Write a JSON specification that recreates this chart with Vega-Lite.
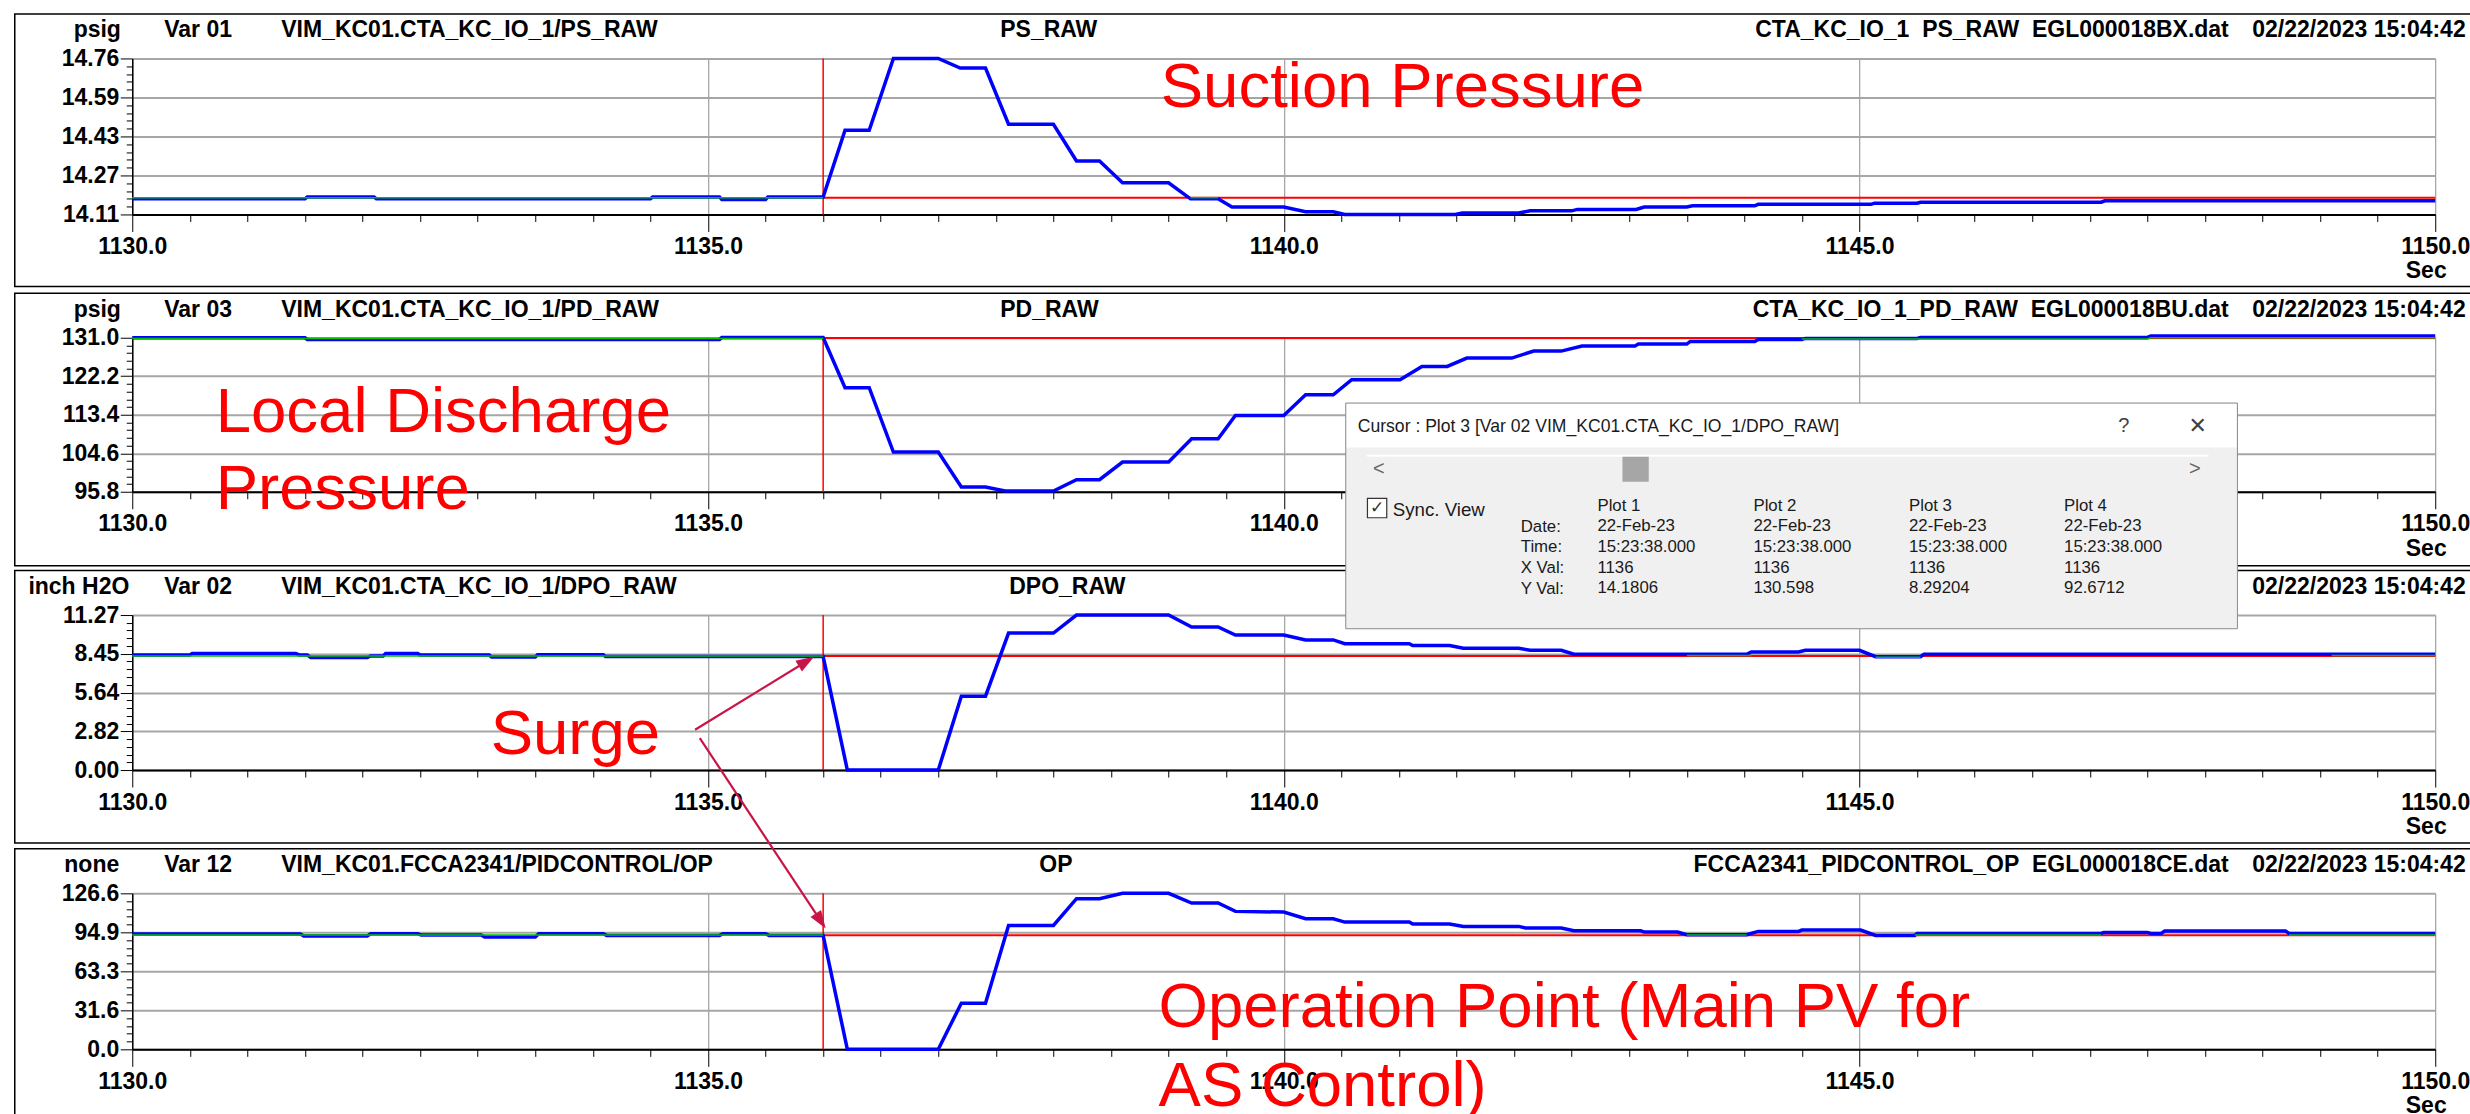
{
"$schema": "https://vega.github.io/schema/vega-lite/v6.json",
"background": "white",
"padding": {"left": 13.25, "top": 12.45, "right": 0, "bottom": 0},
"bounds": "flush",
"spacing": 123.3,
"config": {
  "view": {"stroke": null},
  "font": "Liberation Sans",
  "axis": {"labelFont": "Liberation Sans", "titleFont": "Liberation Sans", "labelFontSize": 23, "labelFontWeight": "bold", "labelColor": "black", "titleFontSize": 23, "titleFontWeight": "bold", "titleColor": "black", "tickColor": "black", "domainColor": "black", "labelFlush": false, "labelOverlap": false, "titlePadding": 0}
},
"datasets": {
  "cursor": [
    {"p": 1, "t": 1136, "t2": 1150, "v": 14.18},
    {"p": 2, "t": 1136, "t2": 1150, "v": 130.95},
    {"p": 3, "t": 1136, "t2": 1150, "v": 8.29},
    {"p": 4, "t": 1136, "t2": 1150, "v": 92.67}
  ],
  "notes": [
    {"p": 1, "t": 1138.932, "v": 14.5558, "text": "Suction Pressure"},
    {"p": 2, "t": 1130.725, "v": 109.35, "text": "Local Discharge\nPressure"},
    {"p": 3, "t": 1133.113, "v": 1.1634, "text": "Surge"},
    {"p": 4, "t": 1138.913, "v": 18.18, "text": "Operation Point (Main PV for\nAS Control)"}
  ],
  "arrows": [
    {"p": 3, "t": 1134.8876, "v": 2.93, "t2": 1135.8541, "v2": 7.896},
    {"p": 4, "t": 1134.9284, "v": 252.63, "t2": 1135.9791, "v2": 104.2}
  ],
  "green": [
    {"p": 1, "seg": "a", "t": 1130, "v": 14.18}, {"p": 1, "seg": "a", "t": 1136, "v": 14.18},
    {"p": 1, "seg": "b", "t": 1139.19, "v": 14.18}, {"p": 1, "seg": "b", "t": 1139.43, "v": 14.18},
    {"p": 2, "seg": "a", "t": 1130, "v": 130.85}, {"p": 2, "seg": "a", "t": 1136, "v": 130.85},
    {"p": 2, "seg": "b", "t": 1144.5, "v": 130.7}, {"p": 2, "seg": "b", "t": 1147.5, "v": 130.7},
    {"p": 2, "seg": "b", "t": 1147.53, "v": 131.0}, {"p": 2, "seg": "b", "t": 1150, "v": 131.0},
    {"p": 3, "seg": "a", "t": 1130, "v": 8.3}, {"p": 3, "seg": "a", "t": 1136, "v": 8.3},
    {"p": 3, "seg": "b", "t": 1143.5, "v": 8.33}, {"p": 3, "seg": "b", "t": 1144.06, "v": 8.33},
    {"p": 3, "seg": "c", "t": 1145.14, "v": 8.2}, {"p": 3, "seg": "c", "t": 1145.53, "v": 8.2},
    {"p": 3, "seg": "d", "t": 1149.1, "v": 8.33}, {"p": 3, "seg": "d", "t": 1150, "v": 8.33},
    {"p": 4, "seg": "a", "t": 1130, "v": 92.7}, {"p": 4, "seg": "a", "t": 1136, "v": 92.7},
    {"p": 4, "seg": "b", "t": 1143.5, "v": 92.7}, {"p": 4, "seg": "b", "t": 1144.02, "v": 92.7},
    {"p": 4, "seg": "c", "t": 1145.48, "v": 92.7}, {"p": 4, "seg": "c", "t": 1147.1, "v": 92.7},
    {"p": 4, "seg": "d", "t": 1148.73, "v": 92.7}, {"p": 4, "seg": "d", "t": 1150, "v": 92.7}
  ],
  "blue": [
    {"p":1,"t":1130,"v":14.175},{"p":1,"t":1131.5,"v":14.175},{"p":1,"t":1131.52,"v":14.183},{"p":1,"t":1132.1,"v":14.183},
    {"p":1,"t":1132.12,"v":14.175},{"p":1,"t":1134.5,"v":14.175},{"p":1,"t":1134.52,"v":14.183},{"p":1,"t":1135.1,"v":14.183},
    {"p":1,"t":1135.12,"v":14.172},{"p":1,"t":1135.5,"v":14.172},{"p":1,"t":1135.52,"v":14.183},{"p":1,"t":1136,"v":14.183},
    {"p":1,"t":1136.19,"v":14.461},{"p":1,"t":1136.4,"v":14.461},{"p":1,"t":1136.61,"v":14.76},{"p":1,"t":1137,"v":14.76},
    {"p":1,"t":1137.19,"v":14.72},{"p":1,"t":1137.41,"v":14.72},{"p":1,"t":1137.61,"v":14.486},{"p":1,"t":1138,"v":14.486},
    {"p":1,"t":1138.2,"v":14.333},{"p":1,"t":1138.4,"v":14.333},{"p":1,"t":1138.6,"v":14.242},{"p":1,"t":1139,"v":14.242},
    {"p":1,"t":1139.19,"v":14.175},{"p":1,"t":1139.43,"v":14.175},{"p":1,"t":1139.55,"v":14.141},{"p":1,"t":1140,"v":14.141},
    {"p":1,"t":1140.19,"v":14.121},{"p":1,"t":1140.43,"v":14.121},{"p":1,"t":1140.53,"v":14.11},{"p":1,"t":1141.49,"v":14.11},
    {"p":1,"t":1141.55,"v":14.116},{"p":1,"t":1142.04,"v":14.116},{"p":1,"t":1142.14,"v":14.125},{"p":1,"t":1142.5,"v":14.125},
    {"p":1,"t":1142.55,"v":14.131},{"p":1,"t":1143.06,"v":14.131},{"p":1,"t":1143.13,"v":14.141},{"p":1,"t":1143.5,"v":14.141},
    {"p":1,"t":1143.55,"v":14.146},{"p":1,"t":1144.09,"v":14.146},{"p":1,"t":1144.12,"v":14.152},{"p":1,"t":1145.1,"v":14.152},
    {"p":1,"t":1145.13,"v":14.157},{"p":1,"t":1145.5,"v":14.157},{"p":1,"t":1145.53,"v":14.161},{"p":1,"t":1147.1,"v":14.161},
    {"p":1,"t":1147.13,"v":14.167},{"p":1,"t":1150,"v":14.167},
    {"p":2,"t":1130,"v":131.0},{"p":2,"t":1131.5,"v":131.0},{"p":2,"t":1131.52,"v":130.62},{"p":2,"t":1135.1,"v":130.62},
    {"p":2,"t":1135.12,"v":131.05},{"p":2,"t":1136,"v":131.05},{"p":2,"t":1136.19,"v":119.57},{"p":2,"t":1136.4,"v":119.57},
    {"p":2,"t":1136.61,"v":104.87},{"p":2,"t":1137,"v":104.87},{"p":2,"t":1137.2,"v":96.87},{"p":2,"t":1137.41,"v":96.87},
    {"p":2,"t":1137.58,"v":95.95},{"p":2,"t":1138,"v":95.95},{"p":2,"t":1138.2,"v":98.54},{"p":2,"t":1138.4,"v":98.54},
    {"p":2,"t":1138.6,"v":102.58},{"p":2,"t":1139,"v":102.58},{"p":2,"t":1139.2,"v":107.91},{"p":2,"t":1139.43,"v":107.91},
    {"p":2,"t":1139.58,"v":113.25},{"p":2,"t":1140,"v":113.25},{"p":2,"t":1140.19,"v":117.97},{"p":2,"t":1140.43,"v":117.97},
    {"p":2,"t":1140.59,"v":121.4},{"p":2,"t":1141.01,"v":121.4},{"p":2,"t":1141.2,"v":124.45},{"p":2,"t":1141.42,"v":124.45},
    {"p":2,"t":1141.59,"v":126.35},{"p":2,"t":1141.98,"v":126.35},{"p":2,"t":1142.17,"v":127.95},{"p":2,"t":1142.41,"v":127.95},
    {"p":2,"t":1142.59,"v":129.1},{"p":2,"t":1143.05,"v":129.1},{"p":2,"t":1143.08,"v":129.55},{"p":2,"t":1143.5,"v":129.55},
    {"p":2,"t":1143.53,"v":130.16},{"p":2,"t":1144.09,"v":130.16},{"p":2,"t":1144.12,"v":130.62},{"p":2,"t":1144.5,"v":130.62},
    {"p":2,"t":1144.53,"v":130.85},{"p":2,"t":1145.5,"v":130.85},{"p":2,"t":1145.53,"v":131.08},{"p":2,"t":1147.5,"v":131.08},
    {"p":2,"t":1147.53,"v":131.38},{"p":2,"t":1150,"v":131.38},
    {"p":3,"t":1130,"v":8.37},{"p":3,"t":1130.5,"v":8.37},{"p":3,"t":1130.52,"v":8.465},{"p":3,"t":1131.42,"v":8.465},
    {"p":3,"t":1131.45,"v":8.37},{"p":3,"t":1131.52,"v":8.37},{"p":3,"t":1131.55,"v":8.175},{"p":3,"t":1132.04,"v":8.175},
    {"p":3,"t":1132.07,"v":8.3},{"p":3,"t":1132.18,"v":8.3},{"p":3,"t":1132.2,"v":8.465},{"p":3,"t":1132.48,"v":8.465},
    {"p":3,"t":1132.5,"v":8.37},{"p":3,"t":1133.1,"v":8.37},{"p":3,"t":1133.12,"v":8.22},{"p":3,"t":1133.5,"v":8.22},
    {"p":3,"t":1133.52,"v":8.39},{"p":3,"t":1134.09,"v":8.39},{"p":3,"t":1134.11,"v":8.25},{"p":3,"t":1136,"v":8.25},
    {"p":3,"t":1136.21,"v":0},{"p":3,"t":1137,"v":0},{"p":3,"t":1137.2,"v":5.37},{"p":3,"t":1137.41,"v":5.37},
    {"p":3,"t":1137.61,"v":9.96},{"p":3,"t":1138,"v":9.96},{"p":3,"t":1138.2,"v":11.27},{"p":3,"t":1139,"v":11.27},
    {"p":3,"t":1139.2,"v":10.4},{"p":3,"t":1139.43,"v":10.4},{"p":3,"t":1139.58,"v":9.82},{"p":3,"t":1140,"v":9.82},
    {"p":3,"t":1140.19,"v":9.46},{"p":3,"t":1140.43,"v":9.46},{"p":3,"t":1140.53,"v":9.19},{"p":3,"t":1141.09,"v":9.19},
    {"p":3,"t":1141.12,"v":9.05},{"p":3,"t":1141.44,"v":9.05},{"p":3,"t":1141.56,"v":8.85},{"p":3,"t":1142.04,"v":8.85},
    {"p":3,"t":1142.14,"v":8.71},{"p":3,"t":1142.41,"v":8.71},{"p":3,"t":1142.52,"v":8.42},{"p":3,"t":1144.02,"v":8.42},
    {"p":3,"t":1144.06,"v":8.59},{"p":3,"t":1144.47,"v":8.59},{"p":3,"t":1144.53,"v":8.71},{"p":3,"t":1145,"v":8.71},
    {"p":3,"t":1145.14,"v":8.24},{"p":3,"t":1145.53,"v":8.24},{"p":3,"t":1145.56,"v":8.42},{"p":3,"t":1150,"v":8.42},
    {"p":4,"t":1130,"v":93.53},{"p":4,"t":1131.46,"v":93.53},{"p":4,"t":1131.49,"v":91.9},{"p":4,"t":1132.04,"v":91.9},
    {"p":4,"t":1132.07,"v":93.8},{"p":4,"t":1132.48,"v":93.8},{"p":4,"t":1132.51,"v":92.71},{"p":4,"t":1133.03,"v":92.71},
    {"p":4,"t":1133.06,"v":91.09},{"p":4,"t":1133.5,"v":91.09},{"p":4,"t":1133.53,"v":93.8},{"p":4,"t":1134.09,"v":93.8},
    {"p":4,"t":1134.12,"v":92.44},{"p":4,"t":1135.1,"v":92.44},{"p":4,"t":1135.13,"v":93.8},{"p":4,"t":1135.5,"v":93.8},
    {"p":4,"t":1135.53,"v":92.44},{"p":4,"t":1136,"v":92.44},{"p":4,"t":1136.21,"v":0},{"p":4,"t":1137,"v":0},
    {"p":4,"t":1137.2,"v":37.41},{"p":4,"t":1137.41,"v":37.41},{"p":4,"t":1137.61,"v":100.57},{"p":4,"t":1138,"v":100.57},
    {"p":4,"t":1138.2,"v":122.26},{"p":4,"t":1138.4,"v":122.26},{"p":4,"t":1138.6,"v":126.6},{"p":4,"t":1139,"v":126.6},
    {"p":4,"t":1139.2,"v":118.74},{"p":4,"t":1139.43,"v":118.74},{"p":4,"t":1139.58,"v":111.96},{"p":4,"t":1140,"v":111.42},
    {"p":4,"t":1140.19,"v":106.0},{"p":4,"t":1140.43,"v":106.0},{"p":4,"t":1140.53,"v":103.29},{"p":4,"t":1141.09,"v":103.29},
    {"p":4,"t":1141.12,"v":101.66},{"p":4,"t":1141.44,"v":101.66},{"p":4,"t":1141.56,"v":99.76},{"p":4,"t":1142.04,"v":99.76},
    {"p":4,"t":1142.1,"v":98.41},{"p":4,"t":1142.41,"v":98.41},{"p":4,"t":1142.52,"v":96.24},{"p":4,"t":1143.1,"v":96.24},
    {"p":4,"t":1143.13,"v":95.15},{"p":4,"t":1143.42,"v":95.15},{"p":4,"t":1143.5,"v":92.98},{"p":4,"t":1144.02,"v":92.98},
    {"p":4,"t":1144.12,"v":95.69},{"p":4,"t":1144.47,"v":95.69},{"p":4,"t":1144.5,"v":96.77},{"p":4,"t":1145.01,"v":96.77},
    {"p":4,"t":1145.14,"v":92.44},{"p":4,"t":1145.48,"v":92.44},{"p":4,"t":1145.5,"v":94.07},{"p":4,"t":1147.1,"v":94.07},
    {"p":4,"t":1147.12,"v":94.88},{"p":4,"t":1147.5,"v":94.88},{"p":4,"t":1147.53,"v":94.07},{"p":4,"t":1147.62,"v":94.07},
    {"p":4,"t":1147.65,"v":95.96},{"p":4,"t":1148.7,"v":95.96},{"p":4,"t":1148.73,"v":94.07},{"p":4,"t":1150,"v":94.07}
  ]
},
"vconcat": [
{
  "width": 2303, "height": 156,
  "resolve": {"axis": {"x": "independent", "y": "independent"}},
  "layer": [
    {"data": {"values": [{}]}, "mark": {"type": "rect", "filled": false, "color": "black", "strokeWidth": 1.5},
     "encoding": {"x": {"datum": 1128.9796, "type": "quantitative", "scale": {"domain": [1130, 1150], "nice": false, "zero": false}, "axis": null}, "x2": {"datum": 1150.31},
                  "y": {"datum": 14.9454, "type": "quantitative", "scale": {"domain": [14.11, 14.76], "nice": false, "zero": false}, "axis": null}, "y2": {"datum": 13.81}}},
    {"data": {"name": "cursor"}, "transform": [{"filter": "datum.p == 1"}], "mark": {"type": "rule", "color": "#ff0000", "strokeWidth": 2},
     "encoding": {"x": {"field": "t", "type": "quantitative", "scale": {"domain": [1130, 1150], "nice": false, "zero": false},
                        "axis": {"orient": "top", "domain": false, "ticks": false, "labels": false, "grid": false, "title": "Var 01", "titleX": 31.5, "titleY": -21.7, "titleAlign": "left", "titleAngle": 0, "titleBaseline": "alphabetic"}},
                  "x2": {"field": "t2"},
                  "y": {"field": "v", "type": "quantitative", "scale": {"domain": [14.11, 14.76], "nice": false, "zero": false},
                        "axis": {"orient": "right", "domain": false, "ticks": false, "labels": false, "grid": false, "title": "02/22/2023 15:04:42", "titleX": -183.5, "titleY": -21.7, "titleAlign": "left", "titleAngle": 0, "titleBaseline": "alphabetic"}}}},
    {"data": {"name": "cursor"}, "transform": [{"filter": "datum.p == 1"}], "mark": {"type": "rule", "color": "#ff0000", "strokeWidth": 1.5},
     "encoding": {"x": {"field": "t", "type": "quantitative", "scale": {"domain": [1130, 1150], "nice": false, "zero": false},
                        "axis": {"orient": "top", "domain": false, "ticks": false, "labels": false, "grid": false, "title": "VIM_KC01.CTA_KC_IO_1/PS_RAW", "titleX": 148.5, "titleY": -21.7, "titleAlign": "left", "titleAngle": 0, "titleBaseline": "alphabetic"}}}},
    {"data": {"name": "blue"}, "transform": [{"filter": "datum.p == 1"}], "mark": {"type": "line", "color": "#0000ff", "strokeWidth": 3.5},
     "encoding": {"x": {"field": "t", "type": "quantitative", "scale": {"domain": [1130, 1150], "nice": false, "zero": false},
                        "axis": {"orient": "bottom", "values": [1130, 1135, 1140, 1145, 1150], "format": ".1f", "tickSize": 17, "labelPadding": 22, "labelBaseline": "alphabetic", "grid": true, "gridColor": "#8c8c8c", "gridWidth": 1, "domainWidth": 2, "title": "Sec", "titleX": 2293.5, "titleY": 63.4, "titleAlign": "center", "titleAngle": 0, "titleBaseline": "alphabetic"}},
                  "y": {"field": "v", "type": "quantitative", "scale": {"domain": [14.11, 14.76], "nice": false, "zero": false},
                        "axis": {"orient": "left", "values": [14.11, 14.2725, 14.435, 14.5975, 14.76], "labelExpr": "datum.value < 14.2 ? '14.11' : datum.value < 14.35 ? '14.27' : datum.value < 14.5 ? '14.43' : datum.value < 14.65 ? '14.59' : '14.76'", "tickSize": 12, "labelPadding": 1.5, "labelBaseline": "middle", "grid": true, "gridColor": "#a6a6a6", "gridWidth": 2, "domainWidth": 1.5, "title": "psig", "titleX": -35.5, "titleY": -21.7, "titleAlign": "center", "titleAngle": 0, "titleBaseline": "alphabetic"}}}},
    {"data": {"name": "green"}, "transform": [{"filter": "datum.p == 1"}], "mark": {"type": "line", "color": "#00c000", "strokeWidth": 1.5},
     "encoding": {"detail": {"field": "seg"},
                  "x": {"field": "t", "type": "quantitative", "scale": {"domain": [1130, 1150], "nice": false, "zero": false},
                        "axis": {"orient": "bottom", "values": [1130.5,1131,1131.5,1132,1132.5,1133,1133.5,1134,1134.5,1135.5,1136,1136.5,1137,1137.5,1138,1138.5,1139,1139.5,1140.5,1141,1141.5,1142,1142.5,1143,1143.5,1144,1144.5,1145.5,1146,1146.5,1147,1147.5,1148,1148.5,1149,1149.5], "tickSize": 7, "labels": false, "domain": false, "grid": false, "title": null}},
                  "y": {"field": "v", "type": "quantitative", "scale": {"domain": [14.11, 14.76], "nice": false, "zero": false},
                        "axis": {"orient": "left", "values": [14.1425,14.175,14.2075,14.24,14.305,14.3375,14.37,14.4025,14.4675,14.5,14.5325,14.565,14.63,14.6625,14.695,14.7275], "tickSize": 6, "labels": false, "domain": false, "grid": false, "title": null}}}},
    {"data": {"name": "notes"}, "transform": [{"filter": "datum.p == 1"}], "mark": {"type": "text", "color": "#ff0000", "fontSize": 63.5, "align": "left", "baseline": "alphabetic", "lineBreak": "\n", "lineHeight": 78},
     "encoding": {"text": {"field": "text"},
                  "x": {"field": "t", "type": "quantitative", "scale": {"domain": [1130, 1150], "nice": false, "zero": false},
                        "axis": {"orient": "top", "domain": false, "ticks": false, "labels": false, "grid": false, "title": "PS_RAW", "titleX": 867.5, "titleY": -21.7, "titleAlign": "left", "titleAngle": 0, "titleBaseline": "alphabetic"}},
                  "y": {"field": "v", "type": "quantitative", "scale": {"domain": [14.11, 14.76], "nice": false, "zero": false},
                        "axis": {"orient": "right", "domain": false, "ticks": false, "labels": false, "grid": false, "title": "CTA_KC_IO_1\u00a0\u00a0PS_RAW\u00a0\u00a0EGL000018BX.dat", "titleX": -207, "titleY": -21.7, "titleAlign": "right", "titleAngle": 0, "titleBaseline": "alphabetic"}}}}
  ]
},
{
  "width": 2303, "height": 154,
  "resolve": {"axis": {"x": "independent", "y": "independent"}},
  "layer": [
    {"data": {"values": [{}]}, "mark": {"type": "rect", "filled": false, "color": "black", "strokeWidth": 1.5},
     "encoding": {"x": {"datum": 1128.9796, "type": "quantitative", "scale": {"domain": [1130, 1150], "nice": false, "zero": false}, "axis": null}, "x2": {"datum": 1150.31},
                  "y": {"datum": 141.1714, "type": "quantitative", "scale": {"domain": [95.8, 131], "nice": false, "zero": false}, "axis": null}, "y2": {"datum": 78.886}}},
    {"data": {"name": "cursor"}, "transform": [{"filter": "datum.p == 2"}], "mark": {"type": "rule", "color": "#ff0000", "strokeWidth": 2},
     "encoding": {"x": {"field": "t", "type": "quantitative", "scale": {"domain": [1130, 1150], "nice": false, "zero": false},
                        "axis": {"orient": "top", "domain": false, "ticks": false, "labels": false, "grid": false, "title": "Var 03", "titleX": 31.5, "titleY": -21.7, "titleAlign": "left", "titleAngle": 0, "titleBaseline": "alphabetic"}},
                  "x2": {"field": "t2"},
                  "y": {"field": "v", "type": "quantitative", "scale": {"domain": [95.8, 131], "nice": false, "zero": false},
                        "axis": {"orient": "right", "domain": false, "ticks": false, "labels": false, "grid": false, "title": "02/22/2023 15:04:42", "titleX": -183.5, "titleY": -21.7, "titleAlign": "left", "titleAngle": 0, "titleBaseline": "alphabetic"}}}},
    {"data": {"name": "cursor"}, "transform": [{"filter": "datum.p == 2"}], "mark": {"type": "rule", "color": "#ff0000", "strokeWidth": 1.5},
     "encoding": {"x": {"field": "t", "type": "quantitative", "scale": {"domain": [1130, 1150], "nice": false, "zero": false},
                        "axis": {"orient": "top", "domain": false, "ticks": false, "labels": false, "grid": false, "title": "VIM_KC01.CTA_KC_IO_1/PD_RAW", "titleX": 148.5, "titleY": -21.7, "titleAlign": "left", "titleAngle": 0, "titleBaseline": "alphabetic"}}}},
    {"data": {"name": "blue"}, "transform": [{"filter": "datum.p == 2"}], "mark": {"type": "line", "color": "#0000ff", "strokeWidth": 3.5},
     "encoding": {"x": {"field": "t", "type": "quantitative", "scale": {"domain": [1130, 1150], "nice": false, "zero": false},
                        "axis": {"orient": "bottom", "values": [1130, 1135, 1140, 1145, 1150], "format": ".1f", "tickSize": 17, "labelPadding": 22, "labelBaseline": "alphabetic", "grid": true, "gridColor": "#8c8c8c", "gridWidth": 1, "domainWidth": 2, "title": "Sec", "titleX": 2293.5, "titleY": 63.4, "titleAlign": "center", "titleAngle": 0, "titleBaseline": "alphabetic"}},
                  "y": {"field": "v", "type": "quantitative", "scale": {"domain": [95.8, 131], "nice": false, "zero": false},
                        "axis": {"orient": "left", "values": [95.8, 104.6, 113.4, 122.2, 131], "format": ".1f", "tickSize": 12, "labelPadding": 1.5, "labelBaseline": "middle", "grid": true, "gridColor": "#a6a6a6", "gridWidth": 2, "domainWidth": 1.5, "title": "psig", "titleX": -35.5, "titleY": -21.7, "titleAlign": "center", "titleAngle": 0, "titleBaseline": "alphabetic"}}}},
    {"data": {"name": "green"}, "transform": [{"filter": "datum.p == 2"}], "mark": {"type": "line", "color": "#00c000", "strokeWidth": 1.5},
     "encoding": {"detail": {"field": "seg"},
                  "x": {"field": "t", "type": "quantitative", "scale": {"domain": [1130, 1150], "nice": false, "zero": false},
                        "axis": {"orient": "bottom", "values": [1130.5,1131,1131.5,1132,1132.5,1133,1133.5,1134,1134.5,1135.5,1136,1136.5,1137,1137.5,1138,1138.5,1139,1139.5,1140.5,1141,1141.5,1142,1142.5,1143,1143.5,1144,1144.5,1145.5,1146,1146.5,1147,1147.5,1148,1148.5,1149,1149.5], "tickSize": 7, "labels": false, "domain": false, "grid": false, "title": null}},
                  "y": {"field": "v", "type": "quantitative", "scale": {"domain": [95.8, 131], "nice": false, "zero": false},
                        "axis": {"orient": "left", "values": [97.56,99.32,101.08,102.84,106.36,108.12,109.88,111.64,115.16,116.92,118.68,120.44,123.96,125.72,127.48,129.24], "tickSize": 6, "labels": false, "domain": false, "grid": false, "title": null}}}},
    {"data": {"name": "notes"}, "transform": [{"filter": "datum.p == 2"}], "mark": {"type": "text", "color": "#ff0000", "fontSize": 63.5, "align": "left", "baseline": "alphabetic", "lineBreak": "\n", "lineHeight": 77},
     "encoding": {"text": {"field": "text"},
                  "x": {"field": "t", "type": "quantitative", "scale": {"domain": [1130, 1150], "nice": false, "zero": false},
                        "axis": {"orient": "top", "domain": false, "ticks": false, "labels": false, "grid": false, "title": "PD_RAW", "titleX": 867.5, "titleY": -21.7, "titleAlign": "left", "titleAngle": 0, "titleBaseline": "alphabetic"}},
                  "y": {"field": "v", "type": "quantitative", "scale": {"domain": [95.8, 131], "nice": false, "zero": false},
                        "axis": {"orient": "right", "domain": false, "ticks": false, "labels": false, "grid": false, "title": "CTA_KC_IO_1_PD_RAW\u00a0\u00a0EGL000018BU.dat", "titleX": -207, "titleY": -21.7, "titleAlign": "right", "titleAngle": 0, "titleBaseline": "alphabetic"}}}}
  ]
},
{
  "width": 2303, "height": 155,
  "resolve": {"axis": {"x": "independent", "y": "independent"}},
  "layer": [
    {"data": {"values": [{}]}, "mark": {"type": "rect", "filled": false, "color": "black", "strokeWidth": 1.5},
     "encoding": {"x": {"datum": 1128.9796, "type": "quantitative", "scale": {"domain": [1130, 1150], "nice": false, "zero": false}, "axis": null}, "x2": {"datum": 1150.31},
                  "y": {"datum": 14.5056, "type": "quantitative", "scale": {"domain": [0, 11.27], "nice": false, "zero": false}, "axis": null}, "y2": {"datum": -5.3078}}},
    {"data": {"name": "cursor"}, "transform": [{"filter": "datum.p == 3"}], "mark": {"type": "rule", "color": "#ff0000", "strokeWidth": 2},
     "encoding": {"x": {"field": "t", "type": "quantitative", "scale": {"domain": [1130, 1150], "nice": false, "zero": false},
                        "axis": {"orient": "top", "domain": false, "ticks": false, "labels": false, "grid": false, "title": "Var 02", "titleX": 31.5, "titleY": -21.7, "titleAlign": "left", "titleAngle": 0, "titleBaseline": "alphabetic"}},
                  "x2": {"field": "t2"},
                  "y": {"field": "v", "type": "quantitative", "scale": {"domain": [0, 11.27], "nice": false, "zero": false},
                        "axis": {"orient": "right", "domain": false, "ticks": false, "labels": false, "grid": false, "title": "02/22/2023 15:04:42", "titleX": -183.5, "titleY": -21.7, "titleAlign": "left", "titleAngle": 0, "titleBaseline": "alphabetic"}}}},
    {"data": {"name": "cursor"}, "transform": [{"filter": "datum.p == 3"}], "mark": {"type": "rule", "color": "#ff0000", "strokeWidth": 1.5},
     "encoding": {"x": {"field": "t", "type": "quantitative", "scale": {"domain": [1130, 1150], "nice": false, "zero": false},
                        "axis": {"orient": "top", "domain": false, "ticks": false, "labels": false, "grid": false, "title": "VIM_KC01.CTA_KC_IO_1/DPO_RAW", "titleX": 148.5, "titleY": -21.7, "titleAlign": "left", "titleAngle": 0, "titleBaseline": "alphabetic"}}}},
    {"data": {"name": "blue"}, "transform": [{"filter": "datum.p == 3"}], "mark": {"type": "line", "color": "#0000ff", "strokeWidth": 3.5},
     "encoding": {"x": {"field": "t", "type": "quantitative", "scale": {"domain": [1130, 1150], "nice": false, "zero": false},
                        "axis": {"orient": "bottom", "values": [1130, 1135, 1140, 1145, 1150], "format": ".1f", "tickSize": 17, "labelPadding": 22, "labelBaseline": "alphabetic", "grid": true, "gridColor": "#8c8c8c", "gridWidth": 1, "domainWidth": 2, "title": "Sec", "titleX": 2293.5, "titleY": 63.4, "titleAlign": "center", "titleAngle": 0, "titleBaseline": "alphabetic"}},
                  "y": {"field": "v", "type": "quantitative", "scale": {"domain": [0, 11.27], "nice": false, "zero": false},
                        "axis": {"orient": "left", "values": [0, 2.8175, 5.635, 8.4525, 11.27], "labelExpr": "datum.value < 1 ? '0.00' : datum.value < 4 ? '2.82' : datum.value < 7 ? '5.64' : datum.value < 10 ? '8.45' : '11.27'", "tickSize": 12, "labelPadding": 1.5, "labelBaseline": "middle", "grid": true, "gridColor": "#a6a6a6", "gridWidth": 2, "domainWidth": 1.5, "title": "inch H2O", "titleX": -53.9, "titleY": -21.7, "titleAlign": "center", "titleAngle": 0, "titleBaseline": "alphabetic"}}}},
    {"data": {"name": "green"}, "transform": [{"filter": "datum.p == 3"}], "mark": {"type": "line", "color": "#00c000", "strokeWidth": 1.5},
     "encoding": {"detail": {"field": "seg"},
                  "x": {"field": "t", "type": "quantitative", "scale": {"domain": [1130, 1150], "nice": false, "zero": false},
                        "axis": {"orient": "bottom", "values": [1130.5,1131,1131.5,1132,1132.5,1133,1133.5,1134,1134.5,1135.5,1136,1136.5,1137,1137.5,1138,1138.5,1139,1139.5,1140.5,1141,1141.5,1142,1142.5,1143,1143.5,1144,1144.5,1145.5,1146,1146.5,1147,1147.5,1148,1148.5,1149,1149.5], "tickSize": 7, "labels": false, "domain": false, "grid": false, "title": null}},
                  "y": {"field": "v", "type": "quantitative", "scale": {"domain": [0, 11.27], "nice": false, "zero": false},
                        "axis": {"orient": "left", "values": [0.5635,1.127,1.6905,2.254,3.381,3.9445,4.508,5.0715,6.1985,6.762,7.3255,7.889,9.016,9.5795,10.143,10.7065], "tickSize": 6, "labels": false, "domain": false, "grid": false, "title": null}}}},
    {"data": {"name": "notes"}, "transform": [{"filter": "datum.p == 3"}], "mark": {"type": "text", "color": "#ff0000", "fontSize": 63.5, "align": "left", "baseline": "alphabetic", "lineBreak": "\n", "lineHeight": 78},
     "encoding": {"text": {"field": "text"},
                  "x": {"field": "t", "type": "quantitative", "scale": {"domain": [1130, 1150], "nice": false, "zero": false},
                        "axis": {"orient": "top", "domain": false, "ticks": false, "labels": false, "grid": false, "title": "DPO_RAW", "titleX": 876.5, "titleY": -21.7, "titleAlign": "left", "titleAngle": 0, "titleBaseline": "alphabetic"}},
                  "y": {"field": "v", "type": "quantitative", "scale": {"domain": [0, 11.27], "nice": false, "zero": false}, "axis": null}}},
    {"data": {"name": "arrows"}, "transform": [{"filter": "datum.p == 3"}], "mark": {"type": "rule", "color": "#c81446", "strokeWidth": 2.2},
     "encoding": {"x": {"field": "t", "type": "quantitative", "scale": {"domain": [1130, 1150], "nice": false, "zero": false}, "axis": null}, "x2": {"field": "t2"},
                  "y": {"field": "v", "type": "quantitative", "scale": {"domain": [0, 11.27], "nice": false, "zero": false}, "axis": null}, "y2": {"field": "v2"}}},
    {"data": {"name": "arrows"}, "transform": [{"filter": "datum.p == 3"}], "mark": {"type": "point", "shape": "M0,-1L0.7,1L-0.7,1Z", "filled": true, "color": "#c81446", "size": 324, "angle": 58.5, "opacity": 1, "strokeWidth": 0},
     "encoding": {"x": {"field": "t2", "type": "quantitative", "scale": {"domain": [1130, 1150], "nice": false, "zero": false}, "axis": null},
                  "y": {"field": "v2", "type": "quantitative", "scale": {"domain": [0, 11.27], "nice": false, "zero": false}, "axis": null}}},
    {"data": {"values": [{}]}, "mark": {"type": "rect", "fill": "#f0f0f0", "stroke": "#8a8a8a", "strokeWidth": 1},
     "encoding": {"x": {"datum": 1140.5384, "type": "quantitative", "scale": {"domain": [1130, 1150], "nice": false, "zero": false}, "axis": null}, "x2": {"datum": 1148.2822},
                  "y": {"datum": 26.6845, "type": "quantitative", "scale": {"domain": [0, 11.27], "nice": false, "zero": false}, "axis": null}, "y2": {"datum": 10.2739}}},
    {"data": {"values": [{}]}, "mark": {"type": "rect", "fill": "#ffffff", "strokeWidth": 0},
     "encoding": {"x": {"datum": 1140.5471, "type": "quantitative", "scale": {"domain": [1130, 1150], "nice": false, "zero": false}, "axis": null}, "x2": {"datum": 1148.2735},
                  "y": {"datum": 26.6117, "type": "quantitative", "scale": {"domain": [0, 11.27], "nice": false, "zero": false}, "axis": null}, "y2": {"datum": 23.4562}}},
    {"data": {"values": [{}]}, "mark": {"type": "rule", "color": "#ffffff", "strokeWidth": 2},
     "encoding": {"x": {"datum": 1140.7208, "type": "quantitative", "scale": {"domain": [1130, 1150], "nice": false, "zero": false}, "axis": null}, "x2": {"datum": 1148.033},
                  "y": {"datum": 22.8527, "type": "quantitative", "scale": {"domain": [0, 11.27], "nice": false, "zero": false}, "axis": null}}},
    {"data": {"values": [{}]}, "mark": {"type": "rect", "fill": "#a6a6a6", "strokeWidth": 0},
     "encoding": {"x": {"datum": 1142.9414, "type": "quantitative", "scale": {"domain": [1130, 1150], "nice": false, "zero": false}, "axis": null}, "x2": {"datum": 1143.1698},
                  "y": {"datum": 22.78, "type": "quantitative", "scale": {"domain": [0, 11.27], "nice": false, "zero": false}, "axis": null}, "y2": {"datum": 20.9622}}},
    {"data": {"values": [{}]}, "mark": {"type": "rect", "fill": "#ffffff", "stroke": "#333333", "strokeWidth": 1.2},
     "encoding": {"x": {"datum": 1140.7269, "type": "quantitative", "scale": {"domain": [1130, 1150], "nice": false, "zero": false}, "axis": null}, "x2": {"datum": 1140.8945},
                  "y": {"datum": 19.748, "type": "quantitative", "scale": {"domain": [0, 11.27], "nice": false, "zero": false}, "axis": null}, "y2": {"datum": 18.3447}}},
    {"data": {"values": [{}]}, "mark": {"type": "text", "text": "Cursor : Plot 3 [Var 02 VIM_KC01.CTA_KC_IO_1/DPO_RAW]", "fontSize": 17.6, "align": "left", "baseline": "alphabetic", "color": "#1a1a1a"},
     "encoding": {"x": {"datum": 1140.6427, "type": "quantitative", "scale": {"domain": [1130, 1150], "nice": false, "zero": false}, "axis": null},
                  "y": {"datum": 24.5977, "type": "quantitative", "scale": {"domain": [0, 11.27], "nice": false, "zero": false}, "axis": null}}},
    {"data": {"values": [{}]}, "mark": {"type": "text", "text": "?", "fontSize": 20, "align": "center", "baseline": "middle", "color": "#404040"},
     "encoding": {"x": {"datum": 1147.2948, "type": "quantitative", "scale": {"domain": [1130, 1150], "nice": false, "zero": false}, "axis": null},
                  "y": {"datum": 25.034, "type": "quantitative", "scale": {"domain": [0, 11.27], "nice": false, "zero": false}, "axis": null}}},
    {"data": {"values": [{}]}, "mark": {"type": "text", "text": "✕", "font": "DejaVu Sans", "fontSize": 22, "align": "center", "baseline": "middle", "color": "#404040"},
     "encoding": {"x": {"datum": 1147.9375, "type": "quantitative", "scale": {"domain": [1130, 1150], "nice": false, "zero": false}, "axis": null},
                  "y": {"datum": 25.034, "type": "quantitative", "scale": {"domain": [0, 11.27], "nice": false, "zero": false}, "axis": null}}},
    {"data": {"values": [{}]}, "mark": {"type": "text", "text": "<", "fontSize": 20, "align": "center", "baseline": "middle", "color": "#666666"},
     "encoding": {"x": {"datum": 1140.825, "type": "quantitative", "scale": {"domain": [1130, 1150], "nice": false, "zero": false}, "axis": null},
                  "y": {"datum": 21.9074, "type": "quantitative", "scale": {"domain": [0, 11.27], "nice": false, "zero": false}, "axis": null}}},
    {"data": {"values": [{}]}, "mark": {"type": "text", "text": ">", "fontSize": 20, "align": "center", "baseline": "middle", "color": "#666666"},
     "encoding": {"x": {"datum": 1147.9114, "type": "quantitative", "scale": {"domain": [1130, 1150], "nice": false, "zero": false}, "axis": null},
                  "y": {"datum": 21.9074, "type": "quantitative", "scale": {"domain": [0, 11.27], "nice": false, "zero": false}, "axis": null}}},
    {"data": {"values": [{}]}, "mark": {"type": "text", "text": "✓", "font": "DejaVu Sans", "fontSize": 17, "align": "center", "baseline": "middle", "color": "#333333"},
     "encoding": {"x": {"datum": 1140.8102, "type": "quantitative", "scale": {"domain": [1130, 1150], "nice": false, "zero": false}, "axis": null},
                  "y": {"datum": 19.05, "type": "quantitative", "scale": {"domain": [0, 11.27], "nice": false, "zero": false}, "axis": null}}},
    {"data": {"values": [{}]}, "mark": {"type": "text", "text": "Sync. View", "fontSize": 18.7, "align": "left", "baseline": "alphabetic", "color": "#1a1a1a"},
     "encoding": {"x": {"datum": 1140.9466, "type": "quantitative", "scale": {"domain": [1130, 1150], "nice": false, "zero": false}, "axis": null},
                  "y": {"datum": 18.4901, "type": "quantitative", "scale": {"domain": [0, 11.27], "nice": false, "zero": false}, "axis": null}}},
    {"data": {"values": [{}]}, "mark": {"type": "text", "text": "Date:\nTime:\nX Val:\nY Val:", "lineBreak": "\n", "lineHeight": 20.6, "fontSize": 16.8, "align": "left", "baseline": "alphabetic", "color": "#1a1a1a"},
     "encoding": {"x": {"datum": 1142.0582, "type": "quantitative", "scale": {"domain": [1130, 1150], "nice": false, "zero": false}, "axis": null},
                  "y": {"datum": 17.3267, "type": "quantitative", "scale": {"domain": [0, 11.27], "nice": false, "zero": false}, "axis": null}}},
    {"data": {"values": [{}]}, "mark": {"type": "text", "text": "Plot 1\n22-Feb-23\n15:23:38.000\n1136\n14.1806", "lineBreak": "\n", "lineHeight": 20.6, "fontSize": 16.8, "align": "left", "baseline": "alphabetic", "color": "#1a1a1a"},
     "encoding": {"x": {"datum": 1142.7243, "type": "quantitative", "scale": {"domain": [1130, 1150], "nice": false, "zero": false}, "axis": null},
                  "y": {"datum": 18.8536, "type": "quantitative", "scale": {"domain": [0, 11.27], "nice": false, "zero": false}, "axis": null}}},
    {"data": {"values": [{}]}, "mark": {"type": "text", "text": "Plot 2\n22-Feb-23\n15:23:38.000\n1136\n130.598", "lineBreak": "\n", "lineHeight": 20.6, "fontSize": 16.8, "align": "left", "baseline": "alphabetic", "color": "#1a1a1a"},
     "encoding": {"x": {"datum": 1144.0791, "type": "quantitative", "scale": {"domain": [1130, 1150], "nice": false, "zero": false}, "axis": null},
                  "y": {"datum": 18.8536, "type": "quantitative", "scale": {"domain": [0, 11.27], "nice": false, "zero": false}, "axis": null}}},
    {"data": {"values": [{}]}, "mark": {"type": "text", "text": "Plot 3\n22-Feb-23\n15:23:38.000\n1136\n8.29204", "lineBreak": "\n", "lineHeight": 20.6, "fontSize": 16.8, "align": "left", "baseline": "alphabetic", "color": "#1a1a1a"},
     "encoding": {"x": {"datum": 1145.4303, "type": "quantitative", "scale": {"domain": [1130, 1150], "nice": false, "zero": false}, "axis": null},
                  "y": {"datum": 18.8536, "type": "quantitative", "scale": {"domain": [0, 11.27], "nice": false, "zero": false}, "axis": null}}},
    {"data": {"values": [{}]}, "mark": {"type": "text", "text": "Plot 4\n22-Feb-23\n15:23:38.000\n1136\n92.6712", "lineBreak": "\n", "lineHeight": 20.6, "fontSize": 16.8, "align": "left", "baseline": "alphabetic", "color": "#1a1a1a"},
     "encoding": {"x": {"datum": 1146.7764, "type": "quantitative", "scale": {"domain": [1130, 1150], "nice": false, "zero": false}, "axis": null},
                  "y": {"datum": 18.8536, "type": "quantitative", "scale": {"domain": [0, 11.27], "nice": false, "zero": false}, "axis": null}}}
  ]
},
{
  "width": 2303, "height": 156,
  "resolve": {"axis": {"x": "independent", "y": "independent"}},
  "layer": [
    {"data": {"values": [{}]}, "mark": {"type": "rect", "filled": false, "color": "black", "strokeWidth": 1.5},
     "encoding": {"x": {"datum": 1128.9796, "type": "quantitative", "scale": {"domain": [1130, 1150], "nice": false, "zero": false}, "axis": null}, "x2": {"datum": 1150.31},
                  "y": {"datum": 162.7134, "type": "quantitative", "scale": {"domain": [0, 126.6], "nice": false, "zero": false}, "axis": null}, "y2": {"datum": -54.7}}},
    {"data": {"name": "cursor"}, "transform": [{"filter": "datum.p == 4"}], "mark": {"type": "rule", "color": "#ff0000", "strokeWidth": 2},
     "encoding": {"x": {"field": "t", "type": "quantitative", "scale": {"domain": [1130, 1150], "nice": false, "zero": false},
                        "axis": {"orient": "top", "domain": false, "ticks": false, "labels": false, "grid": false, "title": "Var 12", "titleX": 31.5, "titleY": -21.7, "titleAlign": "left", "titleAngle": 0, "titleBaseline": "alphabetic"}},
                  "x2": {"field": "t2"},
                  "y": {"field": "v", "type": "quantitative", "scale": {"domain": [0, 126.6], "nice": false, "zero": false},
                        "axis": {"orient": "right", "domain": false, "ticks": false, "labels": false, "grid": false, "title": "02/22/2023 15:04:42", "titleX": -183.5, "titleY": -21.7, "titleAlign": "left", "titleAngle": 0, "titleBaseline": "alphabetic"}}}},
    {"data": {"name": "cursor"}, "transform": [{"filter": "datum.p == 4"}], "mark": {"type": "rule", "color": "#ff0000", "strokeWidth": 1.5},
     "encoding": {"x": {"field": "t", "type": "quantitative", "scale": {"domain": [1130, 1150], "nice": false, "zero": false},
                        "axis": {"orient": "top", "domain": false, "ticks": false, "labels": false, "grid": false, "title": "VIM_KC01.FCCA2341/PIDCONTROL/OP", "titleX": 148.5, "titleY": -21.7, "titleAlign": "left", "titleAngle": 0, "titleBaseline": "alphabetic"}}}},
    {"data": {"name": "blue"}, "transform": [{"filter": "datum.p == 4"}], "mark": {"type": "line", "color": "#0000ff", "strokeWidth": 3.5},
     "encoding": {"x": {"field": "t", "type": "quantitative", "scale": {"domain": [1130, 1150], "nice": false, "zero": false},
                        "axis": {"orient": "bottom", "values": [1130, 1135, 1140, 1145, 1150], "format": ".1f", "tickSize": 17, "labelPadding": 22, "labelBaseline": "alphabetic", "grid": true, "gridColor": "#8c8c8c", "gridWidth": 1, "domainWidth": 2, "title": "Sec", "titleX": 2293.5, "titleY": 63.4, "titleAlign": "center", "titleAngle": 0, "titleBaseline": "alphabetic"}},
                  "y": {"field": "v", "type": "quantitative", "scale": {"domain": [0, 126.6], "nice": false, "zero": false},
                        "axis": {"orient": "left", "values": [0, 31.65, 63.3, 94.95, 126.6], "labelExpr": "datum.value < 10 ? '0.0' : datum.value < 40 ? '31.6' : datum.value < 80 ? '63.3' : datum.value < 110 ? '94.9' : '126.6'", "tickSize": 12, "labelPadding": 1.5, "labelBaseline": "middle", "grid": true, "gridColor": "#a6a6a6", "gridWidth": 2, "domainWidth": 1.5, "title": "none", "titleX": -41, "titleY": -21.7, "titleAlign": "center", "titleAngle": 0, "titleBaseline": "alphabetic"}}}},
    {"data": {"name": "green"}, "transform": [{"filter": "datum.p == 4"}], "mark": {"type": "line", "color": "#00c000", "strokeWidth": 1.5},
     "encoding": {"detail": {"field": "seg"},
                  "x": {"field": "t", "type": "quantitative", "scale": {"domain": [1130, 1150], "nice": false, "zero": false},
                        "axis": {"orient": "bottom", "values": [1130.5,1131,1131.5,1132,1132.5,1133,1133.5,1134,1134.5,1135.5,1136,1136.5,1137,1137.5,1138,1138.5,1139,1139.5,1140.5,1141,1141.5,1142,1142.5,1143,1143.5,1144,1144.5,1145.5,1146,1146.5,1147,1147.5,1148,1148.5,1149,1149.5], "tickSize": 7, "labels": false, "domain": false, "grid": false, "title": null}},
                  "y": {"field": "v", "type": "quantitative", "scale": {"domain": [0, 126.6], "nice": false, "zero": false},
                        "axis": {"orient": "left", "values": [6.33,12.66,18.99,25.32,37.98,44.31,50.64,56.97,69.63,75.96,82.29,88.62,101.28,107.61,113.94,120.27], "tickSize": 6, "labels": false, "domain": false, "grid": false, "title": null}}}},
    {"data": {"name": "notes"}, "transform": [{"filter": "datum.p == 4"}], "mark": {"type": "text", "color": "#ff0000", "fontSize": 63.5, "align": "left", "baseline": "alphabetic", "lineBreak": "\n", "lineHeight": 79},
     "encoding": {"text": {"field": "text"},
                  "x": {"field": "t", "type": "quantitative", "scale": {"domain": [1130, 1150], "nice": false, "zero": false},
                        "axis": {"orient": "top", "domain": false, "ticks": false, "labels": false, "grid": false, "title": "OP", "titleX": 906.5, "titleY": -21.7, "titleAlign": "left", "titleAngle": 0, "titleBaseline": "alphabetic"}},
                  "y": {"field": "v", "type": "quantitative", "scale": {"domain": [0, 126.6], "nice": false, "zero": false},
                        "axis": {"orient": "right", "domain": false, "ticks": false, "labels": false, "grid": false, "title": "FCCA2341_PIDCONTROL_OP\u00a0\u00a0EGL000018CE.dat", "titleX": -207, "titleY": -21.7, "titleAlign": "right", "titleAngle": 0, "titleBaseline": "alphabetic"}}}},
    {"data": {"name": "arrows"}, "transform": [{"filter": "datum.p == 4"}], "mark": {"type": "rule", "color": "#c81446", "strokeWidth": 2.2},
     "encoding": {"x": {"field": "t", "type": "quantitative", "scale": {"domain": [1130, 1150], "nice": false, "zero": false}, "axis": null}, "x2": {"field": "t2"},
                  "y": {"field": "v", "type": "quantitative", "scale": {"domain": [0, 126.6], "nice": false, "zero": false}, "axis": null}, "y2": {"field": "v2"}}},
    {"data": {"name": "arrows"}, "transform": [{"filter": "datum.p == 4"}], "mark": {"type": "point", "shape": "M0,-1L0.7,1L-0.7,1Z", "filled": true, "color": "#c81446", "size": 324, "angle": 146.5, "opacity": 1, "strokeWidth": 0},
     "encoding": {"x": {"field": "t2", "type": "quantitative", "scale": {"domain": [1130, 1150], "nice": false, "zero": false}, "axis": null},
                  "y": {"field": "v2", "type": "quantitative", "scale": {"domain": [0, 126.6], "nice": false, "zero": false}, "axis": null}}}
  ]
}
]
}
